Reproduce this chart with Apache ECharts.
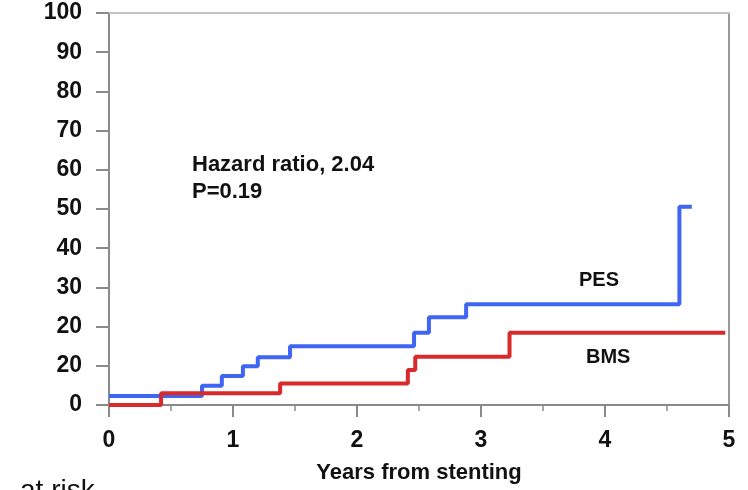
<!DOCTYPE html>
<html>
<head>
<meta charset="utf-8">
<script src="https://cdn.jsdelivr.net/npm/echarts@6/dist/echarts.min.js"></script>
<style>
html,body{margin:0;padding:0;background:#fff;}
#chart{width:748px;height:490px;}
</style>
</head>
<body>
<div id="chart"></div>
<script>
// ---- data ----
var pesTimes  = [0, 0.75, 0.91, 1.08, 1.2, 1.46, 2.46, 2.58, 2.88, 4.6, 4.7];
var pesValues = [2.3, 4.9, 7.4, 9.9, 12.2, 15.0, 18.4, 22.4, 25.7, 50.6, 50.6];
var bmsTimes  = [0, 0.42, 1.38, 2.41, 2.47, 3.23, 4.97];
var bmsValues = [0, 3.0, 5.5, 8.9, 12.3, 18.4, 18.4];
var xTickLabels = ['0', '1', '2', '3', '4', '5'];
var yTickLabels = ['0', '20', '20', '30', '40', '50', '60', '70', '80', '90', '100'];
var seriesNames = ['PES', 'BMS'];
var annotationLines = ['Hazard ratio, 2.04', 'P=0.19'];
var xAxisTitle = 'Years from stenting';
var footerText = 'at risk';

function pairs(xs, ys) {
  var out = [];
  for (var i = 0; i < xs.length; i++) out.push([xs[i], ys[i]]);
  return out;
}

var FONT = '"Liberation Sans", Arial, sans-serif';
var chart = echarts.init(document.getElementById('chart'), null, {renderer: 'canvas'});

chart.setOption({
  animation: false,
  backgroundColor: '#ffffff',
  grid: {left: 109, right: 19, top: 13, bottom: 85, containLabel: false},
  xAxis: [{
    type: 'value', min: 0, max: 5, interval: 1,
    name: xAxisTitle, nameLocation: 'middle', nameGap: 57,
    nameTextStyle: {fontFamily: FONT, fontWeight: 'bold', fontSize: 22, color: '#111'},
    axisLine: {show: true, lineStyle: {color: '#8a8a8a', width: 2}},
    axisTick: {show: true, length: 12, lineStyle: {color: '#8a8a8a', width: 2}},
    minorTick: {show: true, splitNumber: 2, length: 6, lineStyle: {color: '#8a8a8a', width: 1.5}},
    splitLine: {show: false},
    axisLabel: {
      margin: 24, fontFamily: FONT, fontWeight: 'bold', fontSize: 23, color: '#111',
      formatter: function (v) { return xTickLabels[Math.round(v)]; }
    }
  }, {
    type: 'value', position: 'top', min: 0, max: 5,
    axisLine: {show: true, onZero: false, lineStyle: {color: '#c4c4c4', width: 2}},
    axisTick: {show: false}, axisLabel: {show: false}, splitLine: {show: false}
  }],
  yAxis: [{
    type: 'value', min: 0, max: 100, interval: 10,
    axisLine: {show: true, lineStyle: {color: '#8a8a8a', width: 2}},
    axisTick: {show: true, length: 13, lineStyle: {color: '#8a8a8a', width: 2}},
    splitLine: {show: false},
    axisLabel: {
      margin: 27, fontFamily: FONT, fontWeight: 'bold', fontSize: 23, color: '#111',
      formatter: function (v) { return yTickLabels[Math.round(v / 10)]; }
    }
  }, {
    type: 'value', position: 'right', min: 0, max: 100,
    axisLine: {show: true, onZero: false, lineStyle: {color: '#999999', width: 2}},
    axisTick: {show: false}, axisLabel: {show: false}, splitLine: {show: false}
  }],
  series: [{
    name: seriesNames[0], type: 'line', step: 'end', symbol: 'none',
    data: pairs(pesTimes, pesValues),
    lineStyle: {color: '#3f66f2', width: 4}, z: 3
  }, {
    name: seriesNames[1], type: 'line', step: 'end', symbol: 'none',
    data: pairs(bmsTimes, bmsValues),
    lineStyle: {color: '#d8292b', width: 4}, z: 4
  }],
  graphic: [
    {type: 'text', left: 192, top: 154,
     style: {text: annotationLines[0], font: 'bold 22px ' + FONT, fill: '#111'}},
    {type: 'text', left: 192, top: 181,
     style: {text: annotationLines[1], font: 'bold 22px ' + FONT, fill: '#111'}},
    {type: 'text', left: 579, top: 270,
     style: {text: seriesNames[0], font: 'bold 20px ' + FONT, fill: '#111'}},
    {type: 'text', left: 586, top: 347,
     style: {text: seriesNames[1], font: 'bold 20px ' + FONT, fill: '#111'}},
    {type: 'text', left: 20, top: 477,
     style: {text: footerText, font: '28px ' + FONT, fill: '#111'}}
  ]
});
</script>
</body>
</html>
